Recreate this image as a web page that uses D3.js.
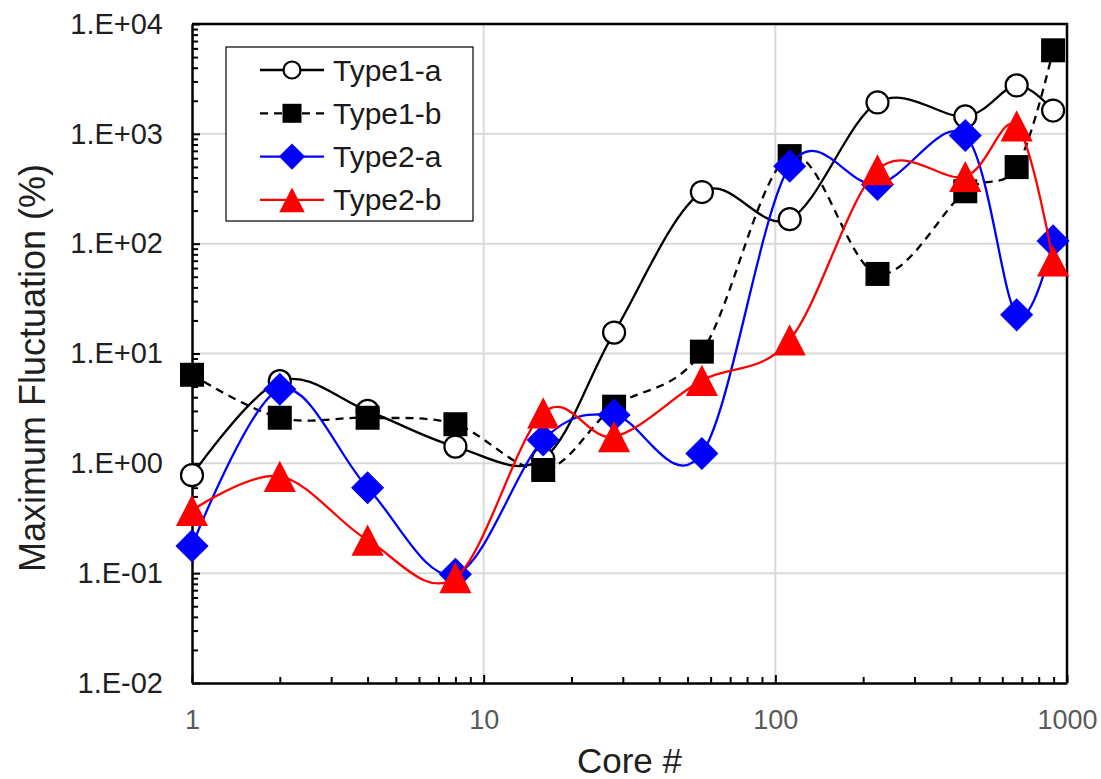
<!DOCTYPE html>
<html>
<head>
<meta charset="utf-8">
<script src="https://cdn.jsdelivr.net/npm/d3@7"></script>
<style>
  html, body { margin: 0; padding: 0; background: #ffffff; }
  svg { display: block; font-family: "Liberation Sans", Arial, sans-serif; }
</style>
</head>
<body>
<svg id="chart" width="1101" height="779"></svg>
<script>
// Core counts on the horizontal axis
const cores = [1, 2, 4, 8, 16, 28, 56, 112, 224, 448, 672, 896];

// Maximum fluctuation (%) per series
const type1a = [0.78, 5.6, 3.0, 1.42, 1.1, 15.5, 295, 167, 1930, 1440, 2760, 1630];
const type1b = [6.4, 2.6, 2.6, 2.27, 0.87, 3.28, 10.4, 627, 53, 300, 498, 5760];
const type2a = [0.177, 4.72, 0.60, 0.0975, 1.63, 2.75, 1.23, 508, 346, 966, 22.5, 106];
const type2b = [0.373, 0.76, 0.20, 0.091, 2.88, 1.75, 5.7, 13.3, 471, 409, 1183, 69.5];

const seriesNames = ["Type1-a", "Type1-b", "Type2-a", "Type2-b"];
const xTickValues = [1, 10, 100, 1000];
const xTickLabels = ["1", "10", "100", "1000"];
const yTickValues = [1e-2, 1e-1, 1e0, 1e1, 1e2, 1e3, 1e4];
const yTickLabels = ["1.E-02", "1.E-01", "1.E+00", "1.E+01", "1.E+02", "1.E+03", "1.E+04"];

const styles = [
  { color: "#000000", marker: "circle",   fill: "#ffffff", dash: null },
  { color: "#000000", marker: "square",   fill: "#000000", dash: "8,6" },
  { color: "#0000ff", marker: "diamond",  fill: "#0000ff", dash: null },
  { color: "#ff0000", marker: "triangle", fill: "#ff0000", dash: null }
];
const values = [type1a, type1b, type2a, type2b];

const svg = d3.select("#chart");
const plotL = 192, plotR = 1067, plotT = 24, plotB = 683;

const x = d3.scaleLog().domain([1, 1000]).range([plotL, plotR]);
const y = d3.scaleLog().domain([1e-2, 1e4]).range([plotB, plotT]);

// minor tick positions (2..9 inside each decade)
const minorX = [];
for (let d = 1; d < 1000; d *= 10) for (let k = 2; k <= 9; k++) minorX.push(d * k);
const minorY = [];
for (let d = 1e-2; d < 1e4; d *= 10) for (let k = 2; k <= 9; k++) minorY.push(d * k);

// gridlines at each decade
const grid = svg.append("g").attr("stroke", "#d9d9d9").attr("stroke-width", 2);
grid.selectAll("line.gx").data(xTickValues.slice(1, -1)).join("line")
  .attr("x1", d => x(d)).attr("x2", d => x(d)).attr("y1", plotT).attr("y2", plotB);
grid.selectAll("line.gy").data(yTickValues.slice(1, -1)).join("line")
  .attr("x1", plotL).attr("x2", plotR).attr("y1", d => y(d)).attr("y2", d => y(d));

// frame on top and right
svg.append("path")
  .attr("d", `M${plotL},${plotT}H${plotR}V${plotB}`)
  .attr("fill", "none").attr("stroke", "#000").attr("stroke-width", 2.5);

// y axis (ticks pointing inward)
const yAxis = svg.append("g").attr("transform", `translate(${plotL},0)`)
  .call(d3.axisLeft(y).tickValues(yTickValues).tickSize(-8).tickSizeOuter(0).tickPadding(29)
    .tickFormat((d, i) => yTickLabels[i]));
svg.append("g").attr("transform", `translate(${plotL},0)`)
  .call(d3.axisLeft(y).tickValues(minorY).tickSize(-6).tickSizeOuter(0).tickFormat(""))
  .call(g => g.select(".domain").remove());

// x axis (ticks pointing inward)
const xAxis = svg.append("g").attr("transform", `translate(0,${plotB})`)
  .call(d3.axisBottom(x).tickValues(xTickValues).tickSize(-8).tickSizeOuter(0).tickPadding(27)
    .tickFormat((d, i) => xTickLabels[i]));
svg.append("g").attr("transform", `translate(0,${plotB})`)
  .call(d3.axisBottom(x).tickValues(minorX).tickSize(-6).tickSizeOuter(0).tickFormat(""))
  .call(g => g.select(".domain").remove());

svg.selectAll(".tick line").attr("stroke", "#000").attr("stroke-width", 2);
yAxis.select(".domain").attr("stroke", "#000").attr("stroke-width", 2.5);
xAxis.select(".domain").attr("stroke", "#000").attr("stroke-width", 2.5);
yAxis.selectAll("text").attr("font-size", 29).attr("fill", "#1f1f1f")
  .attr("font-family", "Liberation Sans, Arial, sans-serif");
xAxis.selectAll("text").attr("font-size", 27).attr("fill", "#595959")
  .attr("font-family", "Liberation Sans, Arial, sans-serif");

// axis titles
svg.append("text")
  .attr("x", (plotL + plotR) / 2).attr("y", 773)
  .attr("text-anchor", "middle").attr("font-size", 35).attr("fill", "#1f1f1f")
  .text("Core #");
svg.append("text")
  .attr("transform", "translate(45,368) rotate(-90)")
  .attr("text-anchor", "middle").attr("font-size", 36).attr("fill", "#1f1f1f")
  .text("Maximum Fluctuation (%)");

// marker drawing
function drawMarker(sel, kind, size, st) {
  if (kind === "circle") {
    sel.append("circle").attr("r", size / 2 - 1)
      .attr("fill", st.fill).attr("stroke", st.color).attr("stroke-width", 2.2);
  } else if (kind === "square") {
    sel.append("rect").attr("x", -size / 2).attr("y", -size / 2)
      .attr("width", size).attr("height", size).attr("fill", st.fill);
  } else if (kind === "diamond") {
    const h = size * 0.69;
    sel.append("path").attr("d", `M0,${-h}L${h},0L0,${h}L${-h},0Z`).attr("fill", st.fill);
  } else {
    const w = size * 0.67, hh = size * 0.65;
    sel.append("path").attr("d", `M0,${-hh}L${w},${hh}L${-w},${hh}Z`).attr("fill", st.fill);
  }
}

const line = d3.line()
  .x(d => x(d.c)).y(d => y(d.v))
  .curve(d3.curveCatmullRom.alpha(0));

values.forEach((vals, si) => {
  const st = styles[si];
  const pts = cores.map((c, i) => ({ c, v: vals[i] }));
  const g = svg.append("g");
  g.append("path").datum(pts).attr("d", line)
    .attr("fill", "none").attr("stroke", st.color).attr("stroke-width", 2.3)
    .attr("stroke-dasharray", st.dash);
  g.selectAll("g.m").data(pts).join("g")
    .attr("transform", d => `translate(${x(d.c)},${y(d.v)})`)
    .each(function () { drawMarker(d3.select(this), st.marker, 24, st); });
});

// legend
const legend = svg.append("g");
legend.append("rect").attr("x", 226).attr("y", 47).attr("width", 247).attr("height", 174)
  .attr("fill", "#fff").attr("stroke", "#000").attr("stroke-width", 1.2);
seriesNames.forEach((name, i) => {
  const st = styles[i];
  const cy = 70 + i * 43.3;
  const row = legend.append("g").attr("transform", `translate(0,${cy})`);
  row.append("line").attr("x1", 260).attr("x2", 324).attr("y1", 0).attr("y2", 0)
    .attr("stroke", st.color).attr("stroke-width", 2.3).attr("stroke-dasharray", st.dash);
  drawMarker(row.append("g").attr("transform", "translate(292,0)"), st.marker, 19, st);
  row.append("text").attr("x", 333).attr("y", 10.5).attr("font-size", 30).attr("fill", "#1a1a1a")
    .text(name);
});
</script>
</body>
</html>
